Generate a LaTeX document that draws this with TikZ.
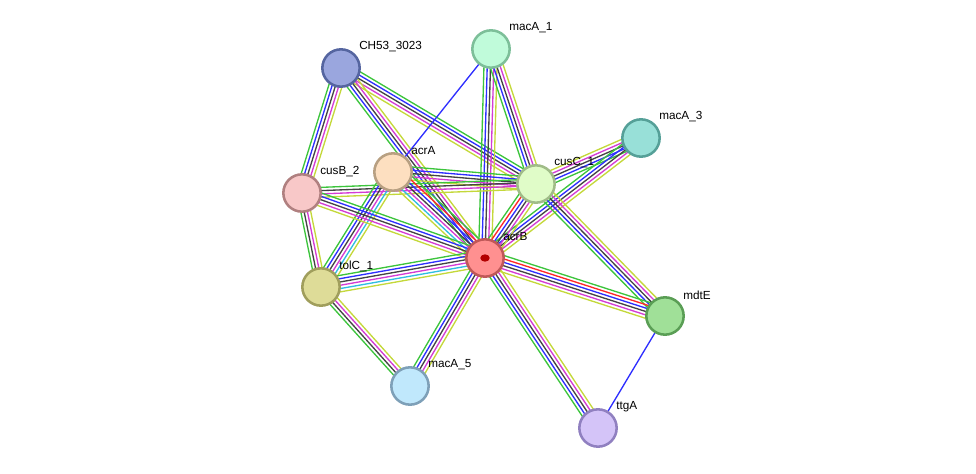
\documentclass[tikz,border=0pt]{standalone}
\usepackage{fontspec}
\setmainfont{Liberation Sans}
\usetikzlibrary{calc,backgrounds}

\definecolor{egreen}{HTML}{3CC43C}
\definecolor{ered}{HTML}{FF2828}
\definecolor{eblue}{HTML}{2E2EFF}
\definecolor{eblack}{HTML}{444444}
\definecolor{emag}{HTML}{D43CD4}
\definecolor{ecyan}{HTML}{30BEE0}
\definecolor{eyel}{HTML}{C4D83A}

\tikzset{
  prot/.style={circle, minimum size=28pt, inner sep=0pt, line width=1.9pt},
  lbl/.style={anchor=west, inner sep=0pt, font=\fontsize{8.8}{10}\selectfont},
  edge/.style={line width=1pt},
}

% parallel coloured lines between two nodes
\newcommand{\bundle}[3]{%
  \foreach \c [count=\n] in {#3}{\xdef\nb{\n}}%
  \foreach \c [count=\i] in {#3}{%
    \pgfmathsetmacro\off{((\nb+1)/2-\i)*2.45}%
    \draw[edge, color=\c] ($(#1.center)!\off pt!90:(#2.center)$) -- ($(#2.center)!\off pt!-90:(#1.center)$);
  }}

\begin{document}
\begin{tikzpicture}[x=0.75pt, y=-0.75pt]
  \useasboundingbox (0,0) rectangle (976,474);

  \node[prot, fill={rgb,255:red,154;green,166;blue,222}, draw={rgb,255:red,85;green,101;blue,160}] (CH53) at (341,68) {};
  \node[prot, fill={rgb,255:red,192;green,251;blue,218}, draw={rgb,255:red,125;green,191;blue,153}] (macA1) at (491,49) {};
  \node[prot, fill={rgb,255:red,152;green,224;blue,216}, draw={rgb,255:red,85;green,160;blue,152}] (macA3) at (641,138) {};
  \node[prot, fill={rgb,255:red,253;green,223;blue,192}, draw={rgb,255:red,184;green,160;blue,130}] (acrA) at (393,172) {};
  \node[prot, fill={rgb,255:red,248;green,200;blue,200}, draw={rgb,255:red,176;green,128;blue,128}] (cusB2) at (302,193) {};
  \node[prot, fill={rgb,255:red,224;green,252;blue,200}, draw={rgb,255:red,160;green,188;blue,136}] (cusC1) at (536,184) {};
  \node[prot, fill={rgb,255:red,255;green,144;blue,144}, draw={rgb,255:red,192;green,88;blue,88}] (acrB) at (485,258) {};
  \node[prot, fill={rgb,255:red,222;green,220;blue,152}, draw={rgb,255:red,160;green,158;blue,92}] (tolC1) at (321,287) {};
  \node[prot, fill={rgb,255:red,160;green,224;blue,152}, draw={rgb,255:red,90;green,158;blue,85}] (mdtE) at (665,316) {};
  \node[prot, fill={rgb,255:red,192;green,232;blue,252}, draw={rgb,255:red,126;green,160;blue,184}] (macA5) at (410,386) {};
  \node[prot, fill={rgb,255:red,212;green,196;blue,248}, draw={rgb,255:red,144;green,128;blue,192}] (ttgA) at (598,428) {};

  \fill[red!70!black] (acrB.center) ellipse (3.5pt and 2.8pt);

  \node[lbl] (CH53-t) at ($(CH53)+(18,-21)$) {CH53\_3023};
  \node[lbl] (macA1-t) at ($(macA1)+(18,-21)$) {macA\_1};
  \node[lbl] (macA3-t) at ($(macA3)+(18,-21)$) {macA\_3};
  \node[lbl] (acrA-t) at ($(acrA)+(18,-21)$) {acrA};
  \node[lbl] (cusB2-t) at ($(cusB2)+(18,-21)$) {cusB\_2};
  \node[lbl] (cusC1-t) at ($(cusC1)+(18,-21)$) {cusC\_1};
  \node[lbl] (acrB-t) at ($(acrB)+(18,-21)$) {acrB};
  \node[lbl] (tolC1-t) at ($(tolC1)+(18,-21)$) {tolC\_1};
  \node[lbl] (mdtE-t) at ($(mdtE)+(18,-21)$) {mdtE};
  \node[lbl] (macA5-t) at ($(macA5)+(18,-21)$) {macA\_5};
  \node[lbl] (ttgA-t) at ($(ttgA)+(18,-21)$) {ttgA};

  \begin{pgfonlayer}{background}
    \bundle{cusB2}{CH53}{egreen,eblue,eblack,emag,eyel}
    \bundle{CH53}{cusC1}{egreen,eblue,eblack,emag,eyel}
    \bundle{acrB}{CH53}{egreen,eblue,eblack,emag,eyel}
    \bundle{macA1}{acrA}{eblue}
    \bundle{acrB}{macA1}{egreen,eblue,eblack,emag,eyel}
    \bundle{cusC1}{macA1}{egreen,eblue,eblack,emag,eyel}
    \bundle{macA3}{cusC1}{egreen,eblue,eblack,emag,eyel}
    \bundle{acrB}{macA3}{egreen,eblue,eblack,emag,eyel}
    \bundle{acrA}{cusC1}{egreen,eblue,eblack,emag,eyel}
    \bundle{cusB2}{cusC1}{egreen,eblack,emag,eyel}
    \bundle{acrA}{acrB}{egreen,ered,eblue,eblack,emag,ecyan,eyel}
    \bundle{tolC1}{acrA}{egreen,eblue,eblack,emag,ecyan,eyel}
    \bundle{cusB2}{acrB}{egreen,eblue,eblack,emag,eyel}
    \bundle{tolC1}{cusB2}{egreen,eblack,emag,eyel}
    \bundle{acrB}{cusC1}{egreen,ered,eblue,eblack,emag,eyel}
    \bundle{mdtE}{cusC1}{egreen,eblue,eblack,emag,eyel}
    \bundle{tolC1}{acrB}{egreen,eblue,eblack,emag,ecyan,eyel}
    \bundle{acrB}{mdtE}{egreen,ered,eblue,eblack,emag,eyel}
    \bundle{macA5}{acrB}{egreen,eblue,eblack,emag,eyel}
    \bundle{ttgA}{acrB}{egreen,eblue,eblack,emag,eyel}
    \bundle{macA5}{tolC1}{egreen,eblack,emag,eyel}
    \bundle{mdtE}{ttgA}{eblue}
  \end{pgfonlayer}
\end{tikzpicture}
\end{document}
